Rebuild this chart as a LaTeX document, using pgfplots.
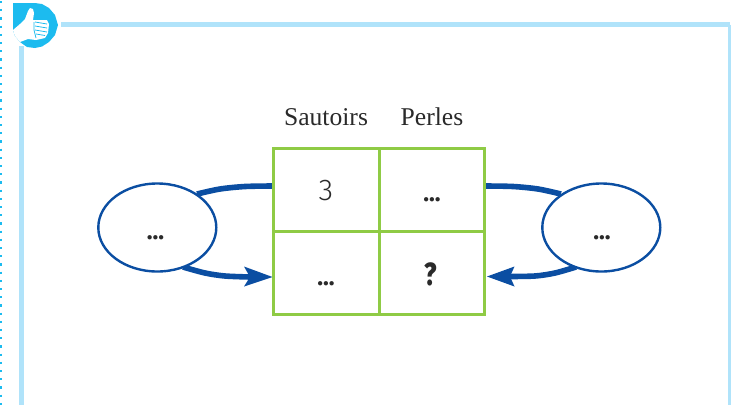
\documentclass[border=0pt]{standalone}
\usepackage{graphicx}
\usepackage{fontspec}
\usepackage{pgfplots}
\pgfplotsset{compat=1.18}
\setmainfont{Liberation Serif}
\newfontfamily\fira{Fira Sans Light}
\newfontfamily\firab{Fira Sans Bold}
\newfontfamily\firah{Fira Sans ExtraBold}
\definecolor{frameb}{HTML}{B0E3FA}
\definecolor{logob}{HTML}{1CBBEF}
\definecolor{gridg}{HTML}{8FCB45}
\definecolor{arrowb}{HTML}{0B4EA2}
\definecolor{ink}{HTML}{2A2A2A}
\begin{document}
\begin{tikzpicture}
\begin{axis}[
  scale only axis, width=731pt, height=405pt,
  xmin=0, xmax=731, ymin=0, ymax=405, y dir=reverse,
  hide axis, clip=true, anchor=south west, at={(0,0)},
]
% dotted margin
\addplot [logob, line width=2.2pt, dash pattern=on 2.2pt off 6pt, forget plot] coordinates {(1,1) (1,405)};
% frame
\addplot [frameb, line width=5.5pt, forget plot] coordinates {(61,24.5) (729.5,24.5)};
\addplot [frameb, line width=3.5pt, forget plot] coordinates {(729.5,24.5) (729.5,405)};
\addplot [frameb, line width=5.5pt, forget plot] coordinates {(21.5,46) (21.5,405)};
% logo disc
\addplot [fill=logob, draw=none, forget plot] coordinates {(13,3) (35,3) (42,4) (49,8) (55,15) (58,25) (55,35) (49,42) (42,46.5) (35,48) (27,47) (20,42) (15,36) (13,30)} -- cycle;
% thumb and hand
\addplot [fill=white, draw=none, forget plot] coordinates {(13,30) (20,24) (25,19) (28,11) (30,8) (33,9) (34,13) (33,20) (47,20) (49,24) (48,33) (45,38) (36,40) (28,39) (20,42) (15,36)} -- cycle;
% finger stripes
\addplot [logob, line width=0.8pt, forget plot] coordinates {(35,22) (47,24)};
\addplot [logob, line width=0.8pt, forget plot] coordinates {(35,26) (47,28)};
\addplot [logob, line width=0.8pt, forget plot] coordinates {(35,30) (47,32)};
\addplot [logob, line width=0.8pt, forget plot] coordinates {(36,34) (45,35.5)};
\addplot [logob, line width=0.8pt, forget plot] coordinates {(34,22) (34,30) (36,38)};
% arrows
\addplot [arrowb, line width=5.6pt, smooth, forget plot] coordinates {(273,186) (245,186.5) (220,189) (197,194)};
\addplot [arrowb, line width=5.6pt, smooth, forget plot] coordinates {(485,186) (513,186.5) (538,189) (561,194)};
\addplot [arrowb, line width=5.6pt, smooth, forget plot] coordinates {(183,267) (205,273) (225,276) (250,277)};
\addplot [arrowb, line width=5.6pt, smooth, forget plot] coordinates {(576,267) (555,273) (535,276) (508,276.5)};
\addplot [fill=arrowb, draw=none, forget plot] coordinates {(272.5,277) (244,266.5) (250,277) (244,286.5)} -- cycle;
\addplot [fill=arrowb, draw=none, forget plot] coordinates {(487,276.5) (514.5,266.5) (510,276.5) (514.5,286.5)} -- cycle;
% ellipses
\draw [arrowb, line width=2.4pt, fill=white] (axis cs:157.3,227.5) ellipse [x radius=59, y radius=44];
\draw [arrowb, line width=2.4pt, fill=white] (axis cs:601.3,227.5) ellipse [x radius=59, y radius=44];
% grid
\addplot [gridg, line width=3pt, forget plot] coordinates {(273.5,148) (484.5,148) (484.5,314) (273.5,314)} -- cycle;
\addplot [gridg, line width=3pt, forget plot] coordinates {(379,148) (379,314)};
\addplot [gridg, line width=3pt, forget plot] coordinates {(273.5,231) (484.5,231)};
% text
\tikzset{lab/.style={text=ink, inner sep=0pt, anchor=base}}
\node [lab, font=\fontsize{25.6}{25.6}\selectfont] at (axis cs:326,125) {Sautoirs};
\node [lab, font=\fontsize{25.6}{25.6}\selectfont] at (axis cs:432,125) {Perles};
\node [lab, font=\fira\fontsize{30}{30}\selectfont] at (axis cs:326,200) {3};
\node [lab, font=\firab\fontsize{24}{24}\selectfont] at (axis cs:155.5,239) {...};
\node [lab, font=\firab\fontsize{24}{24}\selectfont] at (axis cs:602,239) {...};
\node [lab, font=\firab\fontsize{24}{24}\selectfont] at (axis cs:432,201) {...};
\node [lab, font=\firab\fontsize{24}{24}\selectfont] at (axis cs:326,285) {...};
\node [lab, font=\firah\fontsize{32}{32}\selectfont] at (axis cs:431,285) {\scalebox{0.8}[1]{?}};
\end{axis}
\end{tikzpicture}
\end{document}
